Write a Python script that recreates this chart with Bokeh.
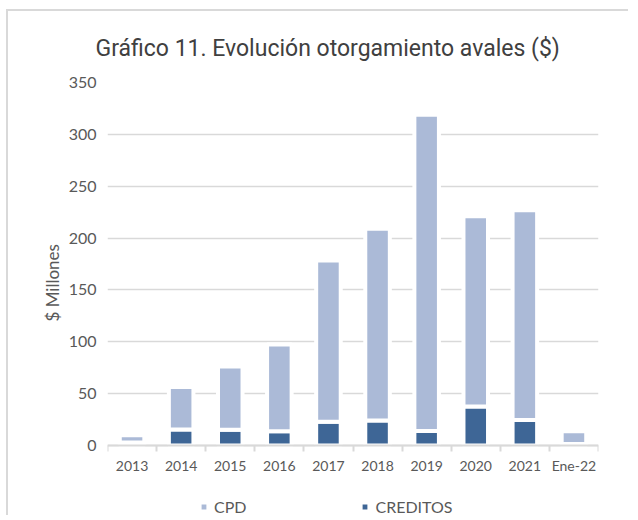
from bokeh.plotting import figure
from bokeh.models import (ColumnDataSource, Range1d, FixedTicker, Legend, LegendItem, Title)
from bokeh.embed import file_html
from bokeh.resources import INLINE

years = ["2013", "2014", "2015", "2016", "2017", "2018", "2019", "2020", "2021", "Ene-22"]
creditos = [3.0, 15.5, 15.3, 13.7, 23.0, 24.2, 13.9, 37.6, 24.7, 1.5]
cpd = [7.0, 40.9, 60.9, 83.7, 155.3, 184.9, 304.9, 183.4, 202.1, 12.2]
y_ticks = [0, 50, 100, 150, 200, 250, 300, 350]

CPD_COLOR = "#abbad7"
CRED_COLOR = "#3e6696"
TEXT = "#595959"
GRID = "#d9d9d9"

xs = [i + 0.5 for i in range(len(years))]
source = ColumnDataSource(dict(x=xs, creditos=creditos, cpd=cpd))

# frame extends below zero so the legend can sit inside it
FRAME_H = 435
PLOT_H = 363
y_start = -350 * (FRAME_H - PLOT_H) / PLOT_H

p = figure(frame_width=491, frame_height=FRAME_H, output_backend="svg", toolbar_location=None,
           x_range=Range1d(0, len(years)), y_range=Range1d(y_start, 350),
           min_border_left=99, min_border_right=32, min_border_top=70, min_border_bottom=0)
p.styles = {"margin-left": "8px", "margin-top": "11px",
            "box-shadow": "-2px -2px 0px 0px #d9d9d9"}

p.title.text = "Gráfico 11. Evolución otorgamiento avales ($)"
p.title.align = "left"
p.title.offset = -12
p.title.text_font = "Roboto"
p.title.text_font_size = "23px"
p.title.text_font_style = "normal"
p.title.text_color = "#404040"
p.title.standoff = 42

renderers = p.vbar_stack(["creditos", "cpd"], x="x", width=0.5, source=source,
                         color=[CRED_COLOR, CPD_COLOR], line_color="white", line_width=4)

p.outline_line_color = None
p.background_fill_color = "white"
p.border_fill_color = "white"

# y axis
p.yaxis.ticker = FixedTicker(ticks=y_ticks)
p.yaxis.axis_line_color = None
p.yaxis.major_tick_line_color = None
p.yaxis.major_tick_out = 0
p.yaxis.major_tick_in = 0
p.yaxis.minor_tick_line_color = None
p.yaxis.major_label_text_font = "Lato"
p.yaxis.major_label_text_font_size = "16px"
p.yaxis.major_label_text_color = TEXT
p.yaxis.major_label_standoff = 11

ytitle = Title(text="$ Millones", align="left", offset=196, standoff=5,
               text_font="Lato", text_font_size="17px", text_font_style="normal",
               text_color=TEXT)
p.add_layout(ytitle, "left")

p.ygrid.ticker = FixedTicker(ticks=y_ticks)
p.ygrid.grid_line_color = GRID
p.ygrid.grid_line_width = 1.5
p.xgrid.grid_line_color = None

# x axis drawn at y = 0: labels at centers, tick marks at category boundaries
p.xaxis.fixed_location = 0
p.xaxis.ticker = FixedTicker(ticks=xs, minor_ticks=list(range(len(years) + 1)))
p.xaxis.major_label_overrides = {x: y for x, y in zip(xs, years)}
p.xaxis.axis_line_color = GRID
p.xaxis.axis_line_width = 2
p.xaxis.major_tick_line_color = None
p.xaxis.major_tick_out = 0
p.xaxis.major_tick_in = 0
p.xaxis.minor_tick_line_color = GRID
p.xaxis.minor_tick_line_width = 2
p.xaxis.minor_tick_in = 0
p.xaxis.minor_tick_out = 6
p.xaxis.major_label_text_font = "Lato"
p.xaxis.major_label_text_font_size = "14px"
p.xaxis.major_label_text_color = TEXT
p.xaxis.major_label_standoff = 5

legend = Legend(items=[LegendItem(label="CPD", renderers=[renderers[1]]),
                       LegendItem(label="CREDITOS", renderers=[renderers[0]])],
                orientation="horizontal", location=(91, 1))
legend.label_text_font = "Lato"
legend.label_text_font_size = "16px"
legend.label_text_color = TEXT
legend.glyph_width = 11
legend.glyph_height = 11
legend.label_standoff = 5
legend.spacing = 113
legend.border_line_color = None
legend.background_fill_alpha = 0
legend.margin = 0
legend.padding = 0
p.add_layout(legend)

open("out.html", "w").write(file_html(p, INLINE))
